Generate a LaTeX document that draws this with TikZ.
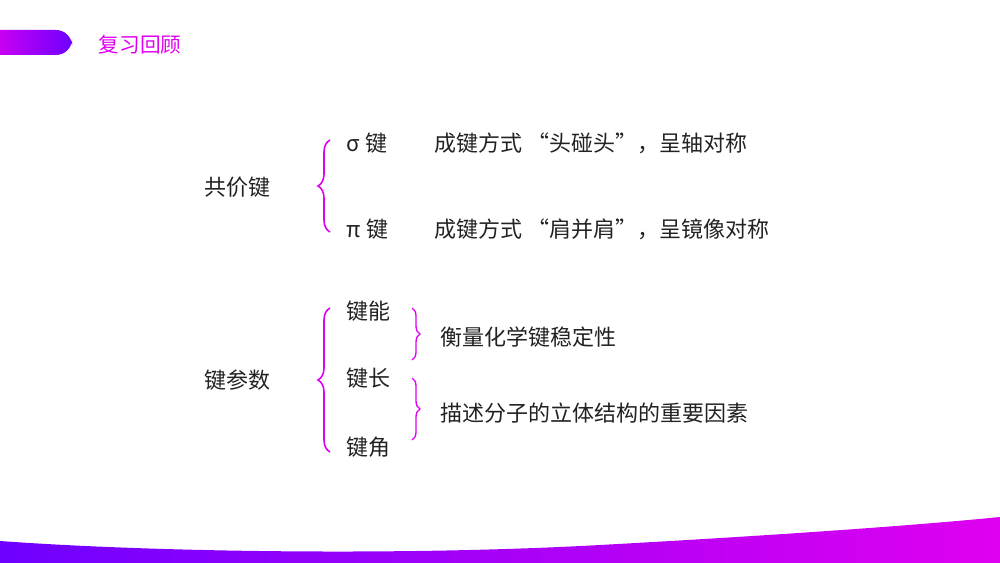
\documentclass[tikz,border=0pt]{standalone}
\usepackage{fontspec}
\setmainfont{Noto Sans CJK SC}
\usetikzlibrary{decorations.pathreplacing,positioning}
\definecolor{magentapink}{HTML}{E000F0}
\definecolor{violetblue}{HTML}{6E00FF}
\definecolor{darktext}{HTML}{222222}
\begin{document}
\begin{tikzpicture}[x=0.75pt, y=-0.75pt,
    every node/.style={text=darktext, font=\fontsize{16.5pt}{18pt}\selectfont},
    lbl/.style={anchor=west},
    bigbrace/.style={draw=magentapink, line width=1.2pt, decorate,
                     decoration={brace, amplitude=9pt}},
    smallbrace/.style={draw=magentapink, line width=1pt, decorate,
                     decoration={brace, amplitude=6pt}}
    ]
\useasboundingbox (0,0) rectangle (1000,563);
% decoration
\shade[left color=magentapink, right color=violetblue, rounded corners=12pt]
  (-20,30) rectangle (72,55);
\node[text=magentapink, font=\fontsize{15.5pt}{17pt}\selectfont, lbl] (title) at (94,45) {复习回顾};
\shade[left color=violetblue, right color=magentapink]
  (0,541) .. controls (150,552) and (400,556) .. (600,545)
  .. controls (800,534) and (930,524) .. (1000,517) -- (1000,563) -- (0,563) -- cycle;

% covalent bond
\node (gjj) at (237,187) {共价键};
\draw[bigbrace] (330,232) -- (330,140);
\node[lbl] (sig) at (342,143) {σ 键};
\node[lbl] (pi) at (342,229) {π 键};
\node[lbl] (sigt) at (430,143) {成键方式 “头碰头”，呈轴对称};
\node[lbl] (pit) at (430,229) {成键方式 “肩并肩”，呈镜像对称};

% bond parameters
\node (jcs) at (237,380) {键参数};
\draw[bigbrace] (330,452) -- (330,308);
\node[lbl] (jn) at (342,311) {键能};
\node[lbl] (jc) at (342,378) {键长};
\node[lbl] (jj) at (342,447) {键角};
\draw[smallbrace] (412,308) -- (412,360);
\draw[smallbrace] (412,378) -- (412,440);
\node[lbl] (wd) at (436,337) {衡量化学键稳定性};
\node[lbl] (ls) at (436,413) {描述分子的立体结构的重要因素};
\end{tikzpicture}
\end{document}
